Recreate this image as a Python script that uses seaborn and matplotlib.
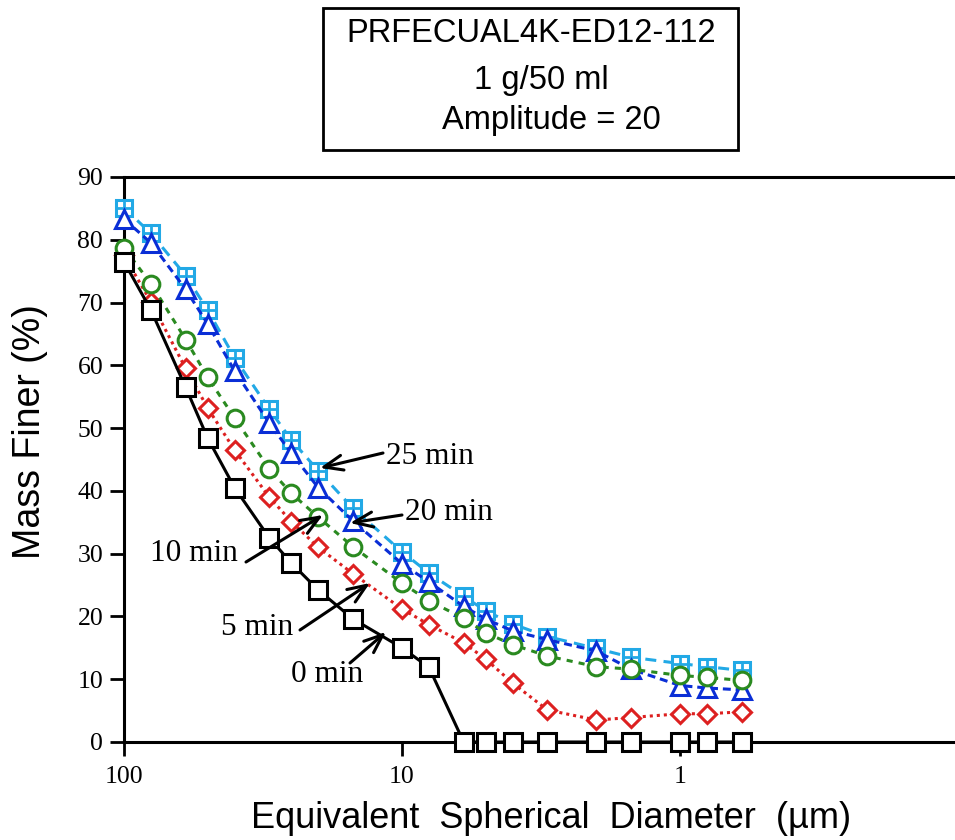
import numpy as np
import pandas as pd
import matplotlib
matplotlib.use("Agg")
import matplotlib.pyplot as plt
import seaborn as sns
from matplotlib.patches import Rectangle

# Sedigraph cumulative mass-finer curves after different sonication times
diameter_um = [100, 80, 60, 50, 40, 30, 25, 20, 15, 10, 8, 6, 5, 4, 3, 2, 1.5, 1, 0.8, 0.6]
finer_0min = [76.5, 68.8, 56.5, 48.4, 40.5, 32.5, 28.5, 24.2, 19.6, 15.0, 11.9,
              0, 0, 0, 0, 0, 0, 0, 0, 0]
finer_5min = [77.5, 70.1, 59.5, 53.2, 46.5, 39.0, 35.1, 31.0, 26.8, 21.2, 18.7,
              15.8, 13.2, 9.4, 5.1, 3.5, 3.9, 4.5, 4.5, 4.8]
finer_10min = [78.7, 73.0, 64.1, 58.1, 51.6, 43.5, 39.6, 35.8, 31.1, 25.3, 22.5,
               19.7, 17.4, 15.5, 13.7, 12.0, 11.6, 10.6, 10.3, 9.8]
finer_20min = [83.3, 79.5, 72.1, 66.6, 59.1, 50.8, 46.0, 40.5, 35.2, 28.4, 25.5,
               21.6, 19.6, 17.7, 16.3, 14.5, 11.6, 9.0, 8.6, 8.3]
finer_25min = [85.1, 81.0, 74.3, 68.8, 61.2, 53.0, 48.1, 43.2, 37.2, 30.3, 26.9,
               23.2, 20.9, 18.8, 16.8, 14.9, 13.5, 12.5, 12.0, 11.4]

series_labels = ["25 min", "20 min", "5 min", "10 min", "0 min"]
x_ticks = [100, 10, 1]
x_tick_labels = ["100", "10", "1"]
y_ticks = [0, 10, 20, 30, 40, 50, 60, 70, 80, 90]

title_lines = ["PRFECUAL4K-ED12-112", "1 g/50 ml", "Amplitude = 20"]

frames = []
for name, vals in zip(series_labels,
                      [finer_25min, finer_20min, finer_5min, finer_10min, finer_0min]):
    frames.append(pd.DataFrame({"diameter": diameter_um, "finer": vals, "series": name}))
df = pd.concat(frames, ignore_index=True)

styles = {
    "25 min": dict(color="#22A9E6", marker="s", ms=11.5, ls=(0, (3.6, 2.4)), z=3),
    "20 min": dict(color="#0A2ED6", marker="^", ms=13, ls=(0, (2.6, 1.6)), z=4),
    "5 min": dict(color="#DD2020", marker="D", ms=9.5, ls=(0, (1.0, 1.3)), z=5),
    "10 min": dict(color="#2A8A20", marker="o", ms=12, ls=(0, (2.0, 2.0)), z=6),
    "0 min": dict(color="black", marker="s", ms=13, ls="-", z=7),
}

sns.set_style("ticks")
plt.rcParams["font.family"] = ["Liberation Sans", "DejaVu Sans"]
plt.rcParams["text.color"] = "black"
plt.rcParams["axes.labelcolor"] = "black"
plt.rcParams["xtick.color"] = "black"
plt.rcParams["ytick.color"] = "black"

fig = plt.figure(figsize=(9.55, 8.4), dpi=100)
ax = fig.add_axes([124 / 955, 1 - 742 / 840, 1 - 124 / 955, (742 - 177) / 840])

for name in series_labels:
    st = styles[name]
    sub = df[df["series"] == name]
    sns.lineplot(data=sub, x="diameter", y="finer", ax=ax, sort=False, estimator=None,
                 color=st["color"], linestyle=st["ls"], linewidth=2.2,
                 marker=st["marker"], markersize=st["ms"], markeredgewidth=2.2,
                 markerfacecolor="white", markeredgecolor=st["color"],
                 clip_on=False, zorder=st["z"])
    if name == "25 min":
        # cross inside the square gives the boxed-plus symbol
        sns.lineplot(data=sub, x="diameter", y="finer", ax=ax, sort=False, estimator=None,
                     color=st["color"], linestyle="none", marker="+",
                     markersize=st["ms"], markeredgewidth=2.0,
                     markeredgecolor=st["color"], clip_on=False, zorder=st["z"])

ax.set_xscale("log")
ax.set_xlim(100, 0.1025)
ax.set_ylim(0, 90)
ax.set_xticks(x_ticks)
ax.set_xticklabels(x_tick_labels)
ax.xaxis.set_minor_locator(matplotlib.ticker.NullLocator())
ax.set_yticks(y_ticks)
ax.set_xlabel("")
ax.set_ylabel("")

for side in ["left", "bottom", "top"]:
    ax.spines[side].set_linewidth(2.2)
    ax.spines[side].set_color("black")
ax.spines["right"].set_visible(False)

serif = ["Liberation Serif", "DejaVu Serif"]
ax.tick_params(axis="both", which="major", direction="out", length=10, width=2.0,
               colors="black", labelsize=18.5, top=False, right=False)
ax.tick_params(axis="y", pad=5)
ax.tick_params(axis="x", pad=7)
for lab in ax.get_xticklabels() + ax.get_yticklabels():
    lab.set_fontfamily(serif)

# arrows and labels for each curve
def to_data(px, py):
    return 10 ** (2 - (px - 124) / 278.0), (742 - py) / 6.278

arrow_kw = dict(arrowstyle="->,head_length=0.75,head_width=0.3", lw=2.2,
                color="black", mutation_scale=18, shrinkA=0, shrinkB=0)
notes = [
    # label, text anchor (px), ha, arrow tail (px), arrow head (px)
    ("25 min", (386, 456), "left", (383, 453), (320, 468)),
    ("20 min", (405, 512), "left", (402, 515), (350, 523)),
    ("10 min", (238, 553), "right", (246, 562), (323, 515)),
    ("5 min", (293, 627), "right", (300, 630), (370, 583)),
    ("0 min", (291, 674), "left", (350, 663), (386, 632)),
]
for text, tpos, ha, tail, head in notes:
    ax.annotate("", xy=to_data(*head), xytext=to_data(*tail),
                arrowprops=arrow_kw, zorder=10)
    ax.text(*to_data(*tpos), text, ha=ha, va="center", fontsize=22.5,
            fontfamily=serif, zorder=10)

# axis titles
fig.text(30 / 955, 1 - 432 / 840, "Mass Finer (%)", rotation=90, ha="center",
         va="center", fontsize=27)
fig.text(551 / 955, 1 - 818 / 840, "Equivalent  Spherical  Diameter  (\u00b5m)",
         ha="center", va="center", fontsize=26)

# boxed sample description
fig.patches.append(Rectangle((323 / 955, 1 - 150 / 840), (738 - 323) / 955, (150 - 8) / 840,
                             transform=fig.transFigure, fill=False, edgecolor="black",
                             linewidth=2.0))
for line, (cx, cy) in zip(title_lines, [(531, 33), (541, 80), (551, 121)]):
    fig.text(cx / 955, 1 - cy / 840, line, ha="center", va="center", fontsize=23.5)

fig.savefig("out.png", dpi=100)
